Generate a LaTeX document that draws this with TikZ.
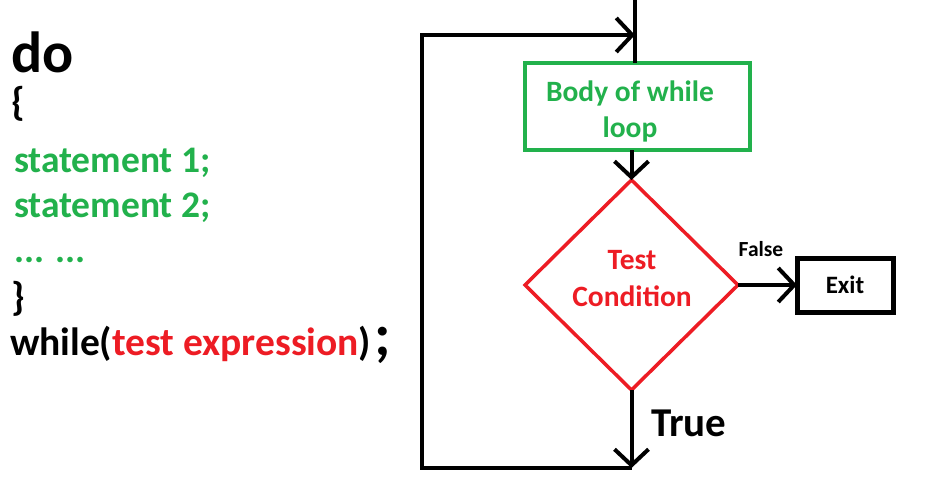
\documentclass[tikz,border=0pt]{standalone}
\usepackage{fontspec}
\setmainfont{Carlito}
\usetikzlibrary{arrows.meta,shapes.geometric}
\definecolor{pgreen}{HTML}{22B14C}
\definecolor{pred}{HTML}{ED1C24}
\newcommand{\fsz}[2]{\fontsize{#1}{#2}\selectfont}
\begin{document}
\begin{tikzpicture}[x=1pt,y=-1pt,
  flow/.style={line width=4pt, draw=black},
  tip/.style={-{Straight Barb[length=16pt,width=34pt]}},
  code/.style={anchor=base west, inner sep=0pt, outer sep=0pt}]
\useasboundingbox (0,0) rectangle (938,483);
% left code text
\node[code, font=\bfseries\fsz{58}{58}] (do) at (11,72) {do};
\node[code, font=\bfseries\fsz{40}{40}] (ob) at (11,115) {\{};
\node[code, text=pgreen, font=\bfseries\fsz{37.5}{37.5}] (s1) at (14,172) {statement 1;};
\node[code, text=pgreen, font=\bfseries\fsz{37.5}{37.5}] (s2) at (14,217) {statement 2;};
\node[code, text=pgreen, font=\bfseries\fsz{37.5}{37.5}] (dots) at (14,262) {... ...};
\node[code, font=\bfseries\fsz{40}{40}] (cb) at (11,310) {\}};
\node[code, font=\bfseries\fsz{39.5}{39.5}] (wh) at (10,355) {while(\textcolor{pred}{test expression})\hspace{3pt}{\fsz{60}{60};}};
% flowchart
\node[draw=pgreen, line width=3.5pt, minimum width=225pt, minimum height=87pt, inner sep=0pt, outer sep=0pt] (body) at (637.5,106.5) {};
\node[text=pgreen, align=center, font=\bfseries\fsz{29.5}{36}] (bodytxt) at (630,111) {Body of while\\loop};
\node[diamond, draw=pred, line width=3.5pt, minimum width=213pt, minimum height=210pt, inner sep=0pt, outer sep=0pt] (cond) at (631.5,285) {};
\node[text=pred, align=center, font=\bfseries\fsz{29.5}{37}] (condtxt) at (632,279) {Test\\Condition};
\node[draw, line width=5pt, minimum width=96pt, minimum height=54pt, inner sep=0pt, outer sep=0pt,
  font=\bfseries\fsz{25}{25}] (exit) at (845,285) {Exit};
\node[font=\bfseries\fsz{21.5}{21.5}] (false) at (761,249) {False};
\node[code, font=\bfseries\fsz{41}{41}] (true) at (651,436) {True};
% connectors
\coordinate (top) at (635,0);
\coordinate (join) at (635,35);
\coordinate (tl) at (422,35);
\coordinate (bl) at (422,468);
\coordinate (bot) at (cond.south |- bl);
\draw[flow] (top) -- (top |- body.north);
\draw[flow, tip] (cond.north |- body.south) -- (cond.north);
\draw[flow, tip] (cond.east) -- (exit.west);
\draw[flow, tip] (cond.south) -- (bot);
\draw[flow, tip] (bot) -- (bl) -- (tl) -- (join);
\end{tikzpicture}
\end{document}
